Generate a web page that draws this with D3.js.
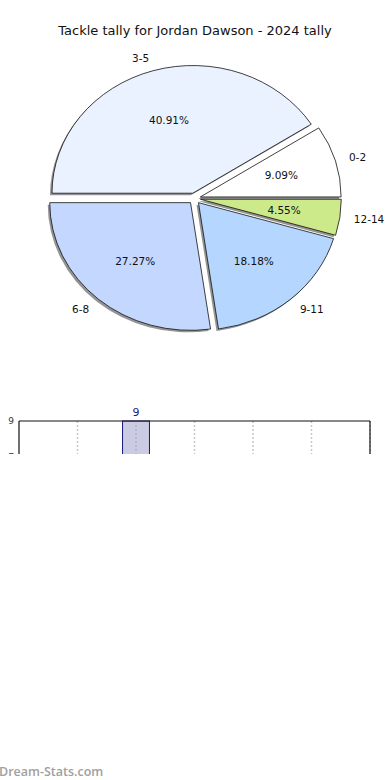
<!DOCTYPE html>
<html>
<head>
<meta charset="utf-8">
<script src="https://cdn.jsdelivr.net/npm/d3@7"></script>
<style>
  html, body { margin: 0; padding: 0; background: #fff; }
  svg { display: block; font-family: "DejaVu Sans", sans-serif; }
</style>
</head>
<body>
<div id="chart"></div>
<script>
// ---- data ----
const title = "Tackle tally for Jordan Dawson - 2024 tally";
const categories = ["0-2", "3-5", "6-8", "9-11", "12-14"];
const counts = [2, 9, 6, 4, 1];
const colors = ["#ffffff", "#eaf1ff", "#c4d7ff", "#b4d6ff", "#cdea8a"];

const barPositions = [2];
const barValues = [9];
const gridTicks = [1, 2, 3, 4, 5, 6];
const yTickValues = [9, 7];
const watermark = "Dream-Stats.com";

// ---- layout ----
const W = 390, H = 780;
const svg = d3.select("#chart").append("svg").attr("width", W).attr("height", H);

svg.append("text").attr("x", 195).attr("y", 30)
  .attr("text-anchor", "middle").attr("dominant-baseline", "central")
  .attr("font-size", 13).attr("fill", "#111").text(title);

// ---- pie ----
const cx = 194.5, cy = 198.5, rx = 140.8, ry = 127.7, explode = 0.043;
const total = d3.sum(counts);
const pie = d3.pie().sort(null).value(d => d)
  .startAngle(Math.PI / 2).endAngle(Math.PI / 2 - 2 * Math.PI);
const arcs = pie(counts);
const arc = d3.arc().innerRadius(0).outerRadius(100);

const info = arcs.map((a, i) => {
  const m = (a.startAngle + a.endAngle) / 2;
  const dx = explode * rx * Math.sin(m), dy = -explode * ry * Math.cos(m);
  return { a, i, m, ox: cx + dx, oy: cy + dy };
});

const pieG = svg.append("g");
// shadows
pieG.selectAll("path.shadow").data(info).enter().append("path")
  .attr("class", "shadow")
  .attr("d", d => arc(d.a))
  .attr("transform", d => `translate(${d.ox - 2},${d.oy + 2}) scale(${rx / 100},${ry / 100})`)
  .attr("fill", "#000").attr("fill-opacity", 0.42);
// wedges
pieG.selectAll("path.wedge").data(info).enter().append("path")
  .attr("class", "wedge")
  .attr("d", d => arc(d.a))
  .attr("transform", d => `translate(${d.ox},${d.oy}) scale(${rx / 100},${ry / 100})`)
  .attr("fill", d => colors[d.i])
  .attr("stroke", "#111").attr("stroke-width", 0.8)
  .attr("vector-effect", "non-scaling-stroke");
// category labels
pieG.selectAll("text.lab").data(info).enter().append("text")
  .attr("class", "lab")
  .attr("x", d => d.ox + 1.1 * rx * Math.sin(d.m))
  .attr("y", d => d.oy - 1.1 * ry * Math.cos(d.m))
  .attr("text-anchor", d => Math.sin(d.m) < 0 ? "end" : "start")
  .attr("dominant-baseline", "central")
  .attr("font-size", 10.5).attr("fill", "#111")
  .text(d => categories[d.i]);
// percentage labels
pieG.selectAll("text.pct").data(info).enter().append("text")
  .attr("class", "pct")
  .attr("x", d => d.ox + 0.6 * rx * Math.sin(d.m))
  .attr("y", d => d.oy - 0.6 * ry * Math.cos(d.m))
  .attr("text-anchor", "middle")
  .attr("dominant-baseline", "central")
  .attr("font-size", 10.5).attr("fill", "#111")
  .text(d => (counts[d.i] / total * 100).toFixed(2) + "%");

// ---- bar chart (cropped) ----
const x = d3.scaleLinear().domain([0, 6]).range([19, 370]);
const y = d3.scaleLinear().domain([0, 9]).range([583, 421]);

svg.append("defs").append("clipPath").attr("id", "clipBar")
  .append("rect").attr("x", 0).attr("y", 380).attr("width", W).attr("height", 74);

const bg = svg.append("g").attr("clip-path", "url(#clipBar)");

bg.selectAll("line.grid").data(gridTicks).enter().append("line")
  .attr("class", "grid")
  .attr("x1", d => x(d)).attr("x2", d => x(d))
  .attr("y1", y(9)).attr("y2", y(0))
  .attr("stroke", "#c8c8c8").attr("stroke-width", 1.5)
  .attr("stroke-dasharray", "2,2");

const bw = x(0.23) - x(0);
bg.selectAll("rect.bar").data(barPositions).enter().append("rect")
  .attr("class", "bar")
  .attr("x", d => x(d) - bw)
  .attr("width", 2 * bw)
  .attr("y", (d, i) => y(barValues[i]))
  .attr("height", (d, i) => y(0) - y(barValues[i]))
  .attr("fill", "#cbcbe4").attr("stroke", "#1a1a80").attr("stroke-width", 1);

// gridline visible through bar
bg.selectAll("line.grid2").data(barPositions).enter().append("line")
  .attr("x1", d => x(d)).attr("x2", d => x(d))
  .attr("y1", y(9)).attr("y2", y(0))
  .attr("stroke", "#9fb0c8").attr("stroke-width", 1.2)
  .attr("stroke-dasharray", "2,2");

bg.selectAll("text.val").data(barPositions).enter().append("text")
  .attr("x", d => x(d)).attr("y", (d, i) => y(barValues[i]) - 9)
  .attr("text-anchor", "middle").attr("dominant-baseline", "central")
  .attr("font-size", 11).attr("fill", "#1a1a80")
  .text((d, i) => barValues[i]);

// frame
bg.append("line").attr("x1", x(0)).attr("x2", x(6)).attr("y1", y(9)).attr("y2", y(9))
  .attr("stroke", "#111").attr("stroke-width", 1.2);
bg.append("line").attr("x1", x(0)).attr("x2", x(0)).attr("y1", y(9)).attr("y2", y(0))
  .attr("stroke", "#111").attr("stroke-width", 1.2);
bg.append("line").attr("x1", x(6)).attr("x2", x(6)).attr("y1", y(9)).attr("y2", y(0))
  .attr("stroke", "#111").attr("stroke-width", 1.2);

// y ticks
const yAxis = d3.axisLeft(y).tickValues(yTickValues).tickSize(0).tickPadding(5);
const ya = bg.append("g").attr("transform", `translate(${x(0)},0)`).call(yAxis);
ya.select(".domain").remove();
ya.selectAll("text").attr("font-size", 9).attr("fill", "#333")
  .attr("font-family", "DejaVu Sans, sans-serif");

// watermark
svg.append("text").attr("x", -1).attr("y", 771)
  .attr("dominant-baseline", "central")
  .attr("font-family", "Open Sans, sans-serif").attr("font-size", 12.5)
  .attr("font-weight", 600)
  .attr("fill", "#a0a0a0").text(watermark);
</script>
</body>
</html>
